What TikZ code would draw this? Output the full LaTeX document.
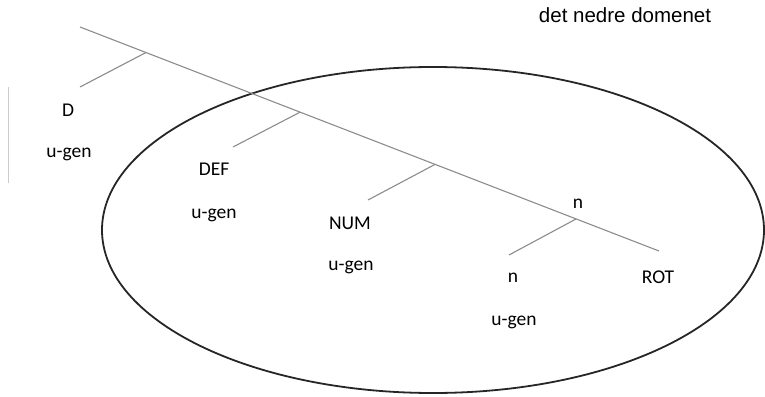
\documentclass[tikz,border=0pt]{standalone}
\usepackage{fontspec}
\setmainfont{Carlito}
\newfontfamily\arialfont{Liberation Sans}
\begin{document}
\begin{tikzpicture}[x=1pt,y=-1pt,
  treeline/.style={draw=black!45,line width=1.1pt},
  lbl/.style={anchor=base,inner sep=0pt,font=\fontsize{19.5}{22}\selectfont,text=black},
  domainline/.style={draw=black!85,line width=1.8pt}]
\useasboundingbox (0,0) rectangle (765,396);
% ellipse
\draw[domainline] (433,230) ellipse [x radius=331, y radius=163];
% left vertical mark
\draw[draw=black!20,line width=0.9pt] (8,87) -- (8,183);
% tree spine
\coordinate (top) at (80,27);
\coordinate (rot) at (659,251);
\coordinate (jD) at (146,52.5);
\coordinate (jDEF) at (300,112.2);
\coordinate (jNUM) at (435,164.4);
\coordinate (jn) at (576,219);
\coordinate (eD) at (80,87);
\coordinate (eDEF) at (233,147);
\coordinate (eNUM) at (368,200);
\coordinate (en) at (509,255);
\draw[treeline] (top) -- (rot);
\draw[treeline] (jD) -- (eD);
\draw[treeline] (jDEF) -- (eDEF);
\draw[treeline] (jNUM) -- (eNUM);
\draw[treeline] (jn) -- (en);
% labels
\node[lbl] (D) at (68,116) {D};
\node[lbl] (ug1) at (69,157) {u-gen};
\node[lbl] (DEF) at (214,175) {DEF};
\node[lbl] (ug2) at (214,218) {u-gen};
\node[lbl] (NUM) at (350,229) {NUM};
\node[lbl] (ug3) at (351,270) {u-gen};
\node[lbl] (ntop) at (578,208) {n};
\node[lbl] (nbot) at (513,282) {n};
\node[lbl] (ROT) at (658,283) {ROT};
\node[lbl] (ug4) at (514,325) {u-gen};
\node[anchor=base,inner sep=0pt,font=\arialfont\fontsize{20.5}{24}\selectfont,text=black] (title) at (625,23) {det nedre domenet};
\end{tikzpicture}
\end{document}
